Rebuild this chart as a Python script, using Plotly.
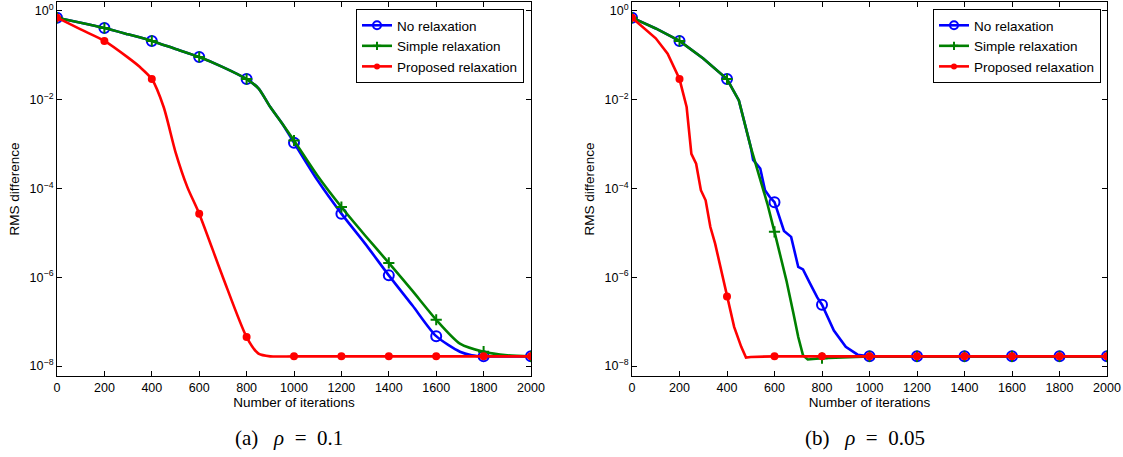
import plotly.graph_objects as go

# ---------------- data ----------------
# (a) rho = 0.1
A_NONE_X = [0, 100, 200, 300, 400, 500, 600, 700, 800, 850, 900, 950, 1000, 1100, 1200,
            1300, 1400, 1500, 1600, 1700, 1750, 1800, 1900, 2000]
A_NONE_Y = [0.70, 0.54, 0.41, 0.295, 0.21, 0.138, 0.091, 0.054, 0.029, 0.018, 6.8e-3, 2.9e-3,
            1.07e-3, 1.5e-4, 2.7e-5, 5.7e-6, 1.1e-6, 2.3e-7, 4.7e-8, 2.1e-8, 1.75e-8, 1.65e-8,
            1.65e-8, 1.65e-8]

A_SIMPLE_X = [0, 100, 200, 300, 400, 500, 600, 700, 800, 850, 900, 950, 1000, 1100, 1200,
              1300, 1400, 1500, 1600, 1700, 1800, 1900, 2000]
A_SIMPLE_Y = [0.70, 0.54, 0.41, 0.295, 0.21, 0.138, 0.091, 0.054, 0.029, 0.018, 6.8e-3, 2.9e-3,
              1.2e-3, 1.9e-4, 3.8e-5, 8.7e-6, 2.1e-6, 4.9e-7, 1.1e-7, 3.2e-8, 2.1e-8, 1.75e-8,
              1.65e-8]

A_PROP_X = [0, 100, 200, 300, 350, 400, 450, 500, 550, 600, 700, 800, 850, 900, 1000, 1200,
            1400, 1600, 1800, 2000]
A_PROP_Y = [0.70, 0.38, 0.21, 0.088, 0.054, 0.029, 6.8e-3, 6.6e-4, 1.07e-4, 2.7e-5, 1.0e-6,
            4.5e-8, 1.9e-8, 1.65e-8, 1.65e-8, 1.65e-8, 1.65e-8, 1.65e-8, 1.65e-8, 1.65e-8]

# (b) rho = 0.05
B_NONE_X = [0, 100, 200, 300, 400, 450, 500, 510, 540, 560, 580, 600, 640, 670, 700, 720, 750,
            780, 800, 850, 900, 950, 1000, 1200, 1400, 1600, 1800, 2000]
B_NONE_Y = [0.70, 0.40, 0.21, 0.084, 0.029, 9.6e-3, 8.5e-4, 4.4e-4, 2.8e-4, 9.1e-5, 6.4e-5,
            4.9e-5, 1.1e-5, 8.1e-6, 1.7e-6, 1.5e-6, 7.2e-7, 3.5e-7, 2.4e-7, 6.3e-8, 2.7e-8,
            1.8e-8, 1.65e-8, 1.65e-8, 1.65e-8, 1.65e-8, 1.65e-8, 1.65e-8]

B_SIMPLE_X = [0, 100, 200, 300, 400, 450, 500, 540, 570, 600, 650, 680, 700, 720, 740, 800,
              900, 1000, 1200, 1400, 1600, 1800, 2000]
B_SIMPLE_Y = [0.70, 0.40, 0.21, 0.084, 0.029, 9.6e-3, 8.5e-4, 1.5e-4, 4.5e-5, 1.05e-5, 8.5e-7,
              1.5e-7, 4.5e-8, 1.74e-8, 1.4e-8, 1.5e-8, 1.6e-8, 1.65e-8, 1.65e-8, 1.65e-8,
              1.65e-8, 1.65e-8, 1.65e-8]

B_PROP_X = [0, 100, 150, 200, 230, 250, 270, 290, 310, 330, 350, 370, 400, 430, 460, 480, 500,
            600, 800, 1000, 1200, 1400, 1600, 1800, 2000]
B_PROP_Y = [0.70, 0.24, 0.108, 0.029, 6.8e-3, 6.0e-4, 3.6e-4, 9.1e-5, 5.4e-5, 1.35e-5, 5.7e-6,
            2.0e-6, 3.7e-7, 7.6e-8, 2.7e-8, 1.55e-8, 1.6e-8, 1.65e-8, 1.65e-8, 1.65e-8, 1.65e-8,
            1.65e-8, 1.65e-8, 1.65e-8, 1.65e-8]

SERIES_NAMES = ["No relaxation", "Simple relaxation", "Proposed relaxation"]
MARKER_STEP = 200
X_TICKS = [0, 200, 400, 600, 800, 1000, 1200, 1400, 1600, 1800, 2000]
Y_TICKS = [1, 1e-2, 1e-4, 1e-6, 1e-8]
Y_TICK_TEXT = ["10<sup>0</sup>", "10<sup>−2</sup>", "10<sup>−4</sup>", "10<sup>−6</sup>",
               "10<sup>−8</sup>"]
CAPTIONS = ["(a)&nbsp;&nbsp;&nbsp;<i>ρ</i>&nbsp;&nbsp;=&nbsp;&nbsp;0.1",
            "(b)&nbsp;&nbsp;&nbsp;<i>ρ</i>&nbsp;&nbsp;=&nbsp;&nbsp;0.05"]

# ---------------- styling ----------------
STYLES = [
    dict(color="#0000ff", symbol="circle-open", size=10, lw=2),
    dict(color="#008000", symbol="cross-thin-open", size=8, lw=2),
    dict(color="#ff0000", symbol="circle", size=8, lw=0),
]
FONT = "Liberation Sans, Arial, sans-serif"
W, H = 1123, 457

fig = go.Figure()

panels = [
    ("x", "y", "legend", [(A_NONE_X, A_NONE_Y), (A_SIMPLE_X, A_SIMPLE_Y), (A_PROP_X, A_PROP_Y)], "spline"),
    ("x2", "y2", "legend2", [(B_NONE_X, B_NONE_Y), (B_SIMPLE_X, B_SIMPLE_Y), (B_PROP_X, B_PROP_Y)], "linear"),
]

for xa, ya, lg, data, shape in panels:
    for (xs, ys), st, name in zip(data, STYLES, SERIES_NAMES):
        line = dict(color=st["color"], width=2.6, shape=shape)
        if shape == "spline":
            line["smoothing"] = 0.7
        fig.add_trace(go.Scatter(
            x=xs, y=ys, mode="lines", xaxis=xa, yaxis=ya, showlegend=False,
            line=line, hoverinfo="skip"))
        mx = [x for x in xs if x % MARKER_STEP == 0]
        my = [y for x, y in zip(xs, ys) if x % MARKER_STEP == 0]
        fig.add_trace(go.Scatter(
            x=mx, y=my, mode="markers", xaxis=xa, yaxis=ya, showlegend=False,
            marker=dict(color=st["color"], symbol=st["symbol"], size=st["size"],
                        line=dict(color=st["color"], width=st["lw"]))))
    for st, name in zip(STYLES, SERIES_NAMES):
        fig.add_trace(go.Scatter(
            x=[None], y=[None], mode="lines+markers", xaxis=xa, yaxis=ya, name=name, legend=lg,
            line=dict(color=st["color"], width=2.6),
            marker=dict(color=st["color"], symbol=st["symbol"], size=st["size"] - 2,
                        line=dict(color=st["color"], width=st["lw"]))))

axis_common = dict(showline=True, linecolor="black", linewidth=1, mirror="ticks",
                   ticks="inside", ticklen=5, tickcolor="black", showgrid=False, zeroline=False,
                   automargin=False,
                   tickfont=dict(family=FONT, size=12.5, color="black"))

xdom = [[57 / W, 531 / W], [632 / W, 1107 / W]]
ydom = [1 - 376 / H, 1 - 2 / H]

for i, (xn, yn) in enumerate([("xaxis", "yaxis"), ("xaxis2", "yaxis2")]):
    fig.update_layout(**{
        xn: dict(axis_common, domain=xdom[i], range=[0, 2000], tickvals=X_TICKS,
                 anchor="y" if i == 0 else "y2",
                 title=dict(text="Number of iterations", standoff=2,
                            font=dict(family=FONT, size=13.5, color="black"))),
        yn: dict(axis_common, domain=ydom, type="log", range=[-8.225, 0.198],
                 tickvals=Y_TICKS, ticktext=Y_TICK_TEXT,
                 anchor="x" if i == 0 else "x2",
                 title=dict(text="RMS difference", standoff=6,
                            font=dict(family=FONT, size=13.5, color="black"))),
    })

legend_common = dict(bgcolor="white", bordercolor="black", borderwidth=1,
                     font=dict(family=FONT, size=13.5, color="black"),
                     xanchor="right", yanchor="top", tracegroupgap=0,
                     itemwidth=30)
fig.update_layout(
    legend=dict(legend_common, x=524 / W, y=1 - 9 / H),
    legend2=dict(legend_common, x=1101 / W, y=1 - 9 / H),
)

for cx, txt in zip([289 / W, 865 / W], CAPTIONS):
    fig.add_annotation(x=cx, y=1 - 438 / H, xref="paper", yref="paper", text=txt,
                       showarrow=False, xanchor="center", yanchor="middle",
                       font=dict(family="Liberation Serif, Times New Roman, serif", size=21,
                                 color="black"))

fig.update_layout(width=W, height=H, margin=dict(l=0, r=0, t=0, b=0),
                  paper_bgcolor="white", plot_bgcolor="white")

fig.write_html("out.html", config={"displayModeBar": False},
               post_script="document.body.style.margin='0';document.body.style.overflow='hidden';")
